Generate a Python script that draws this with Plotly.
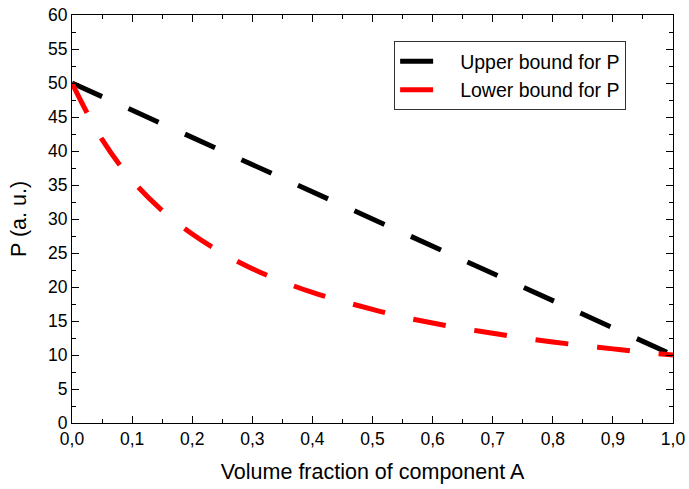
import plotly.graph_objects as go

x_upper = [0.0, 1.0]
y_upper = [50.0, 10.0]

x_lower = [0.0, 0.05, 0.1, 0.15, 0.2, 0.25, 0.3, 0.35, 0.4, 0.45, 0.5,
           0.55, 0.6, 0.65, 0.7, 0.75, 0.8, 0.85, 0.9, 0.95, 1.0]
y_lower = [50.0, 41.7, 35.7, 31.25, 27.8, 25.0, 22.7, 20.8, 19.2, 17.9, 16.7,
           15.6, 14.7, 13.9, 13.2, 12.5, 11.9, 11.4, 10.9, 10.4, 10.0]

font_family = "Liberation Sans, Arial, sans-serif"

fig = go.Figure()
fig.add_trace(go.Scatter(x=x_upper, y=y_upper, mode="lines", name="Upper bound for P",
                         line=dict(color="black", width=5, dash="33px,29px")))
fig.add_trace(go.Scatter(x=x_lower, y=y_lower, mode="lines", name="Lower bound for P",
                         line=dict(color="#ff0000", width=5, dash="33px,29px", shape="spline")))

axis_common = dict(showgrid=False, zeroline=False, showline=True, linecolor="black",
                   linewidth=1, mirror="allticks", ticks="inside", ticklen=7,
                   tickcolor="black", automargin=False,
                   tickfont=dict(size=17.5, color="black", family=font_family))

fig.update_layout(
    width=689, height=489,
    margin=dict(l=72, r=16, t=15, b=66, autoexpand=False),
    paper_bgcolor="white", plot_bgcolor="white",
    separators=",.",
    font=dict(family=font_family, color="black"),
    xaxis=dict(range=[0, 1], dtick=0.1, tick0=0, tickformat=".1f",
               title=dict(text="Volume fraction of component A", font=dict(size=21.5)),
               minor=dict(ticks="inside", ticklen=4, dtick=0.05, tickcolor="black"),
               **axis_common),
    yaxis=dict(range=[0, 60], dtick=5, tick0=0,
               title=dict(text="P (a. u.)", font=dict(size=21.5)),
               minor=dict(ticks="inside", ticklen=4, dtick=2.5, tickcolor="black"),
               **axis_common),
    legend=dict(x=0.536, y=0.936, xanchor="left", yanchor="top",
                bordercolor="#333333", borderwidth=1, bgcolor="white",
                font=dict(size=19.5, color="black", family=font_family),
                itemwidth=55, tracegroupgap=0),
    showlegend=True,
)

fig.write_html("out.html",
               config={"displayModeBar": False},
               post_script="document.body.style.margin='0px';document.body.style.overflow='hidden';")
